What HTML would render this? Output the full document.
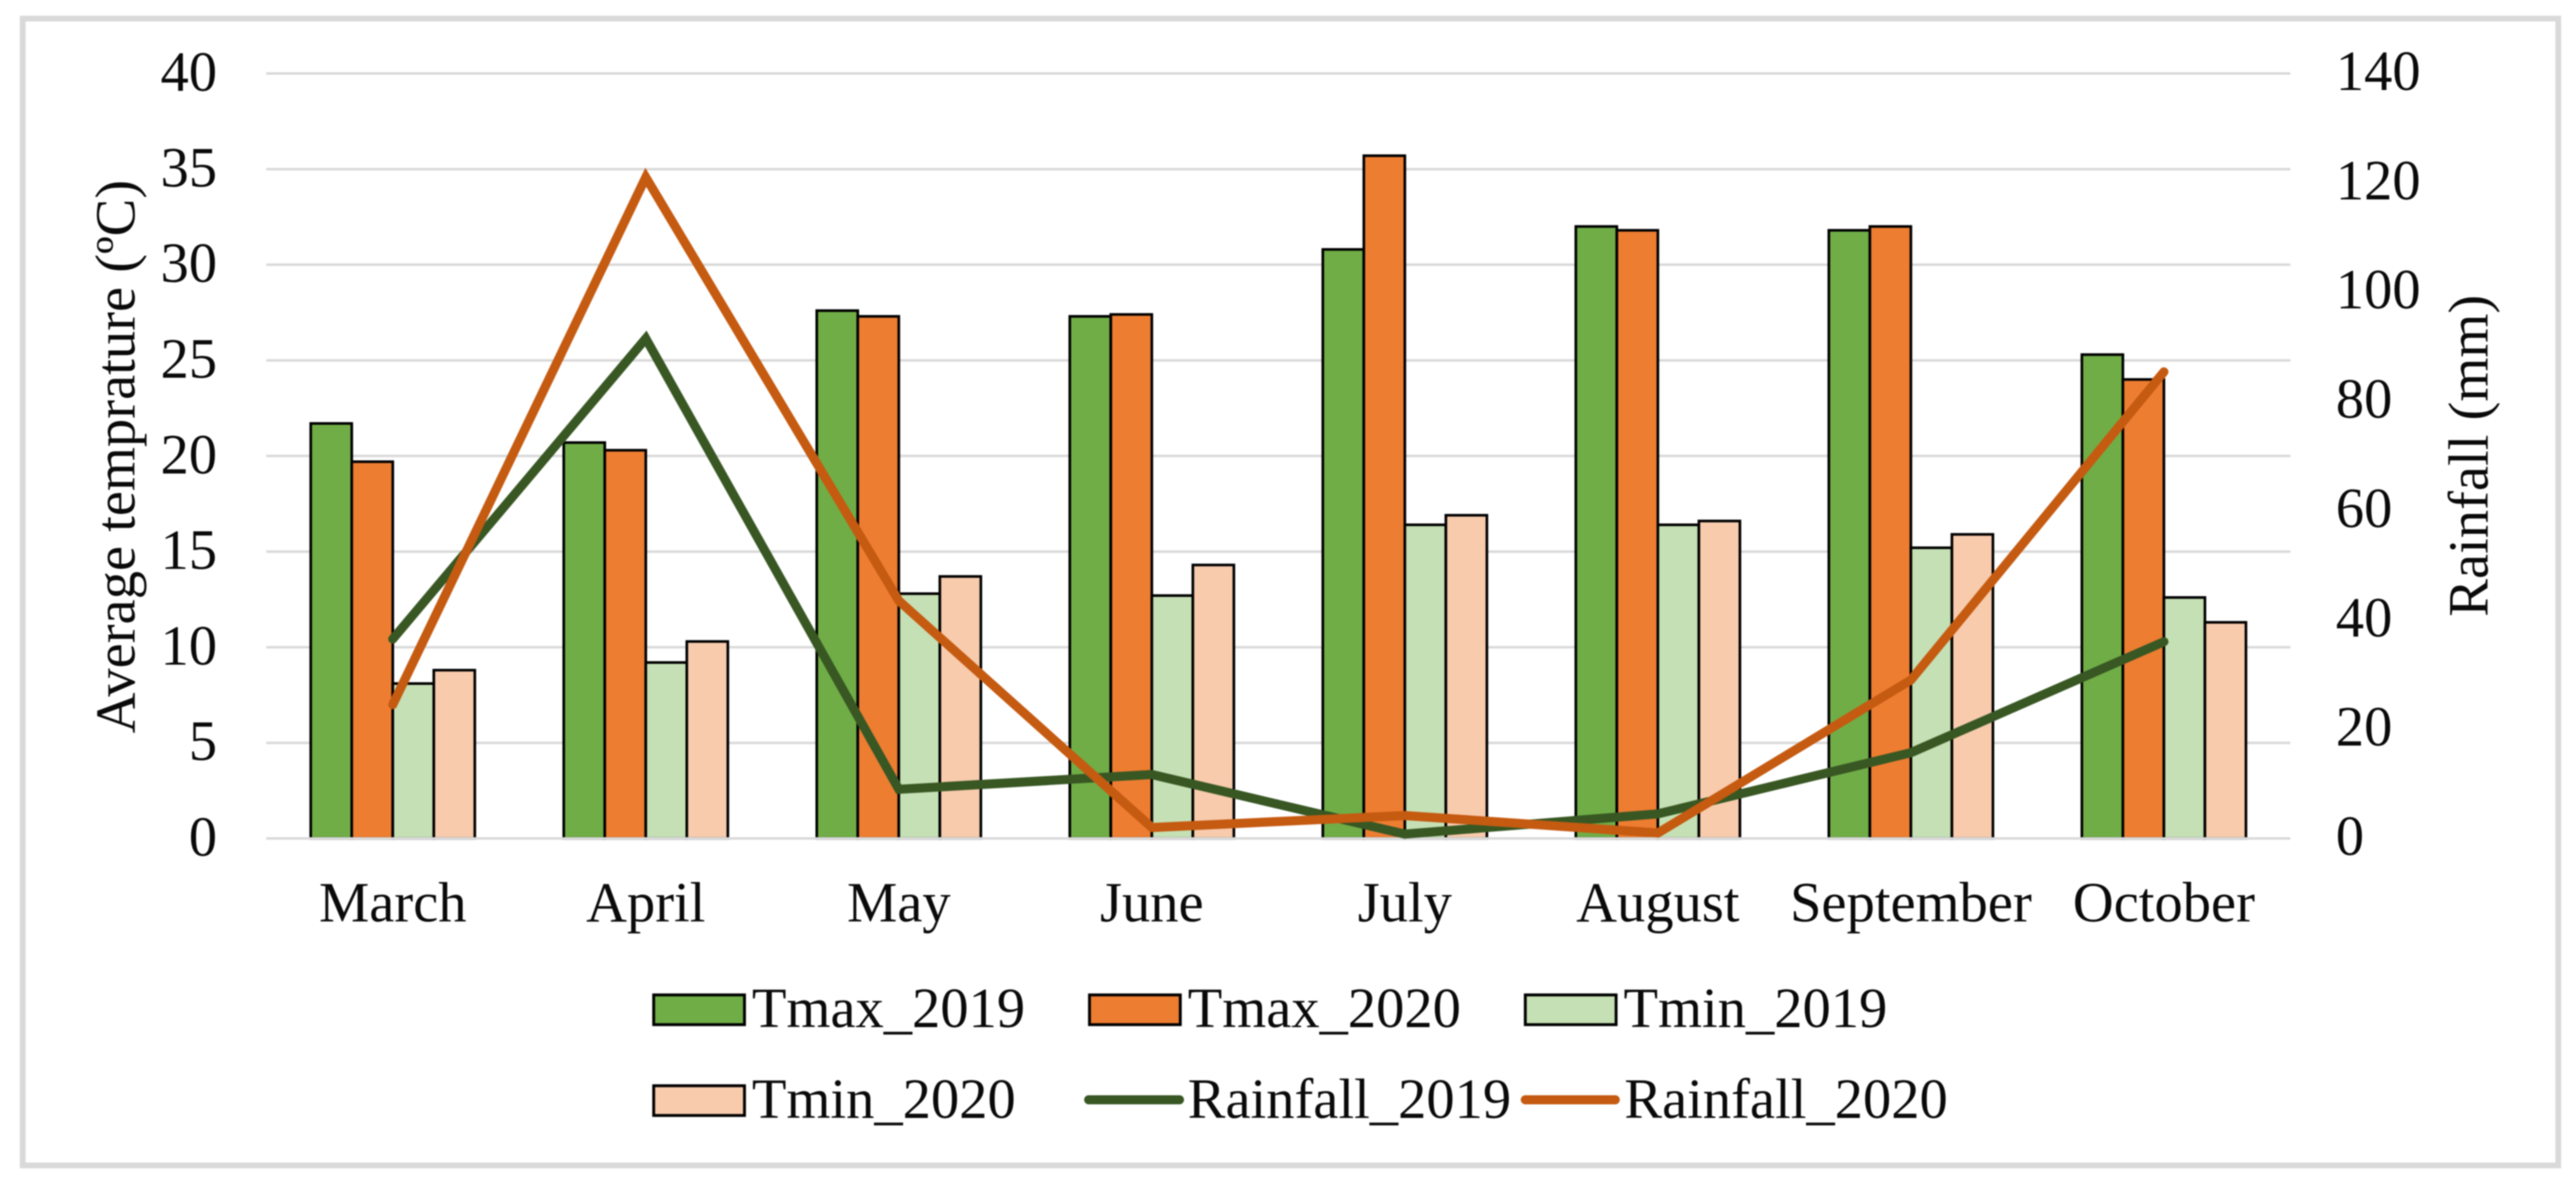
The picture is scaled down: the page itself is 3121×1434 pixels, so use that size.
<!DOCTYPE html>
<html lang="en">
<head>
<meta charset="utf-8">
<title>Average temperature and rainfall, March to October</title>
<style>
html,body{margin:0;padding:0;background:#fff;}
body{width:3121px;height:1434px;overflow:hidden;}
svg{display:block;filter:blur(0.8px);}
text{font-family:"Liberation Serif","Times New Roman",serif;font-size:68.5px;fill:#0a0a0a;}
</style>
</head>
<body>
<svg id="chart" xmlns="http://www.w3.org/2000/svg" width="3121" height="1434" viewBox="0 0 3121 1434">
  <rect x="0" y="0" width="3121" height="1434" fill="#ffffff"/>
  <rect x="27.5" y="22.5" width="3072" height="1389" fill="#ffffff" stroke="#d9d9d9" stroke-width="7"/>
  <g id="grid"></g>
  <g id="left-ticks"></g>
  <g id="right-ticks"></g>
  <g id="bars"></g>
  <g id="baseline"></g>
  <g id="lines"></g>
  <g id="cats"></g>
  <text text-anchor="middle" transform="translate(163 553) rotate(-90)">Average temprature (ºC)</text>
  <text text-anchor="middle" transform="translate(3014 552) rotate(-90)">Rainfall (mm)</text>
  <g>
    <g>
      <rect x="792" y="1205" width="110" height="36" fill="#70ad47" stroke="#000" stroke-width="3.5"/>
      <text x="911" y="1244">Tmax_2019</text>
    </g>
    <g>
      <rect x="1320" y="1205" width="110" height="36" fill="#ed7d31" stroke="#000" stroke-width="3.5"/>
      <text x="1439" y="1244">Tmax_2020</text>
    </g>
    <g>
      <rect x="1848" y="1205" width="110" height="36" fill="#c5e0b4" stroke="#000" stroke-width="3.5"/>
      <text x="1967" y="1244">Tmin_2019</text>
    </g>
    <g>
      <rect x="792" y="1315" width="110" height="36" fill="#f8cbad" stroke="#000" stroke-width="3.5"/>
      <text x="911" y="1354">Tmin_2020</text>
    </g>
    <g>
      <line x1="1319" y1="1332" x2="1429" y2="1332" stroke="#385723" stroke-width="11" stroke-linecap="round"/>
      <text x="1439" y="1354">Rainfall_2019</text>
    </g>
    <g>
      <line x1="1848" y1="1332" x2="1957" y2="1332" stroke="#c55a11" stroke-width="11" stroke-linecap="round"/>
      <text x="1968" y="1354">Rainfall_2020</text>
    </g>
  </g>
</svg>
<script>
const categories = ["March","April","May","June","July","August","September","October"];
const tmax2019 = [21.7,20.7,27.6,27.3,30.8,32.0,31.8,25.3];
const tmax2020 = [19.7,20.3,27.3,27.4,35.7,31.8,32.0,24.0];
const tmin2019 = [8.1,9.2,12.8,12.7,16.4,16.4,15.2,12.6];
const tmin2020 = [8.8,10.3,13.7,14.3,16.9,16.6,15.9,11.3];
const rainfall2019 = [36.5,91.5,9,11.7,0.8,4.5,15.7,36];
const rainfall2020 = [24.5,121,43.5,2,4.2,1,29,85.4];
const leftTicks = [0,5,10,15,20,25,30,35,40];
const rightTicks = [0,20,40,60,80,100,120,140];

const NS = "http://www.w3.org/2000/svg";
const plotLeft = 322.6, plotRight = 2775, plotTop = 89, plotBottom = 1015.5;
const leftMax = 40, rightMax = 140;
const bandWidth = (plotRight - plotLeft) / categories.length;
const barWidth = 49.7;

function yLeft(v){ return plotBottom - (v / leftMax) * (plotBottom - plotTop); }
function yRight(v){ return plotBottom - (v / rightMax) * (plotBottom - plotTop); }
function xCenter(i){ return plotLeft + bandWidth * (i + 0.5); }

function make(tag, parent, attrs){
  const el = document.createElementNS(NS, tag);
  for (const k in attrs) el.setAttribute(k, attrs[k]);
  parent.appendChild(el);
  return el;
}

const gridG = document.getElementById("grid");
leftTicks.forEach(function(t){
  if (t === 0) return;
  const el = make("line", gridG, {x1:plotLeft, x2:plotRight, y1:yLeft(t), y2:yLeft(t), stroke:"#d9d9d9", "stroke-width":3});
  
  
});

const leftG = document.getElementById("left-ticks");
leftTicks.forEach(function(t){
  const el = make("text", leftG, {x:263, y:yLeft(t) + 21, "text-anchor":"end"});
  el.textContent = t;
  
  
});

const rightG = document.getElementById("right-ticks");
rightTicks.forEach(function(t){
  const el = make("text", rightG, {x:2830, y:yRight(t) + 20});
  el.textContent = t;
  
  
});

const barSeries = [
  {key:"tmax-2019", values:tmax2019, fill:"#70ad47"},
  {key:"tmax-2020", values:tmax2020, fill:"#ed7d31"},
  {key:"tmin-2019", values:tmin2019, fill:"#c5e0b4"},
  {key:"tmin-2020", values:tmin2020, fill:"#f8cbad"}
];
const barsG = document.getElementById("bars");
categories.forEach(function(cat, i){
  barSeries.forEach(function(s, j){
    const x = xCenter(i) - 2 * barWidth + j * barWidth;
    const top = yLeft(s.values[i]);
    const el = make("rect", barsG, {x:x, y:top, width:barWidth, height:plotBottom - top, fill:s.fill, stroke:"#000", "stroke-width":3.2});
    
    
  });
});

const baseG = document.getElementById("baseline");
const baseEl = make("line", baseG, {x1:plotLeft, x2:plotRight, y1:plotBottom, y2:plotBottom, stroke:"#d9d9d9", "stroke-width":3});



const lineSeries = [
  {key:"rainfall-2019", values:rainfall2019, stroke:"#385723"},
  {key:"rainfall-2020", values:rainfall2020, stroke:"#c55a11"}
];
const linesG = document.getElementById("lines");
lineSeries.forEach(function(s){
  const pts = s.values.map(function(v, i){ return xCenter(i) + "," + yRight(v); }).join(" ");
  const el = make("polyline", linesG, {points:pts, fill:"none", stroke:s.stroke, "stroke-width":11, "stroke-linecap":"round", "stroke-linejoin":"miter"});
  
  
});

const catsG = document.getElementById("cats");
categories.forEach(function(cat, i){
  const el = make("text", catsG, {x:xCenter(i), y:1116, "text-anchor":"middle"});
  el.textContent = cat;
  
  
});
</script>
</body>
</html>
